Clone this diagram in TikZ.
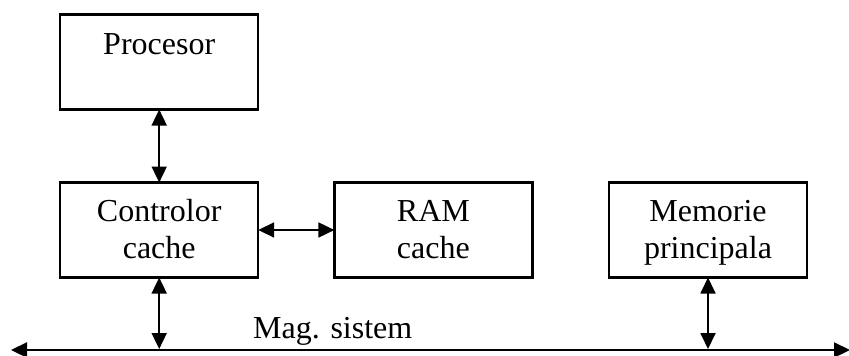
\documentclass[tikz,border=0pt]{standalone}
\usepackage{fontspec}
\setmainfont{Liberation Serif}
\usetikzlibrary{arrows.meta}

\tikzset{
  unit/.style={draw=black, line width=2.2pt, rectangle, minimum width=198pt,
               minimum height=95pt, inner sep=0pt, outer sep=0pt},
  caption/.style={anchor=base, inner sep=0pt,
                  font=\fontsize{32}{36}\selectfont},
  link/.style={line width=1.8pt, {Triangle[length=16pt,width=15pt]}-{Triangle[length=16pt,width=15pt]}},
  bus/.style={line width=2.2pt, {Triangle[length=16pt,width=15pt]}-{Triangle[length=16pt,width=15pt]}}
}

\begin{document}
\begin{tikzpicture}[x=1pt, y=-1pt]
  \useasboundingbox (0,0) rectangle (849,356);

  % blocks
  \node[unit] (cpu)  at (159.2,62)  {};
  \node[unit] (ctrl) at (159.2,230) {};
  \node[unit] (sram) at (433.4,230) {};
  \node[unit] (mem)  at (708,230)   {};

  % block captions
  \node[caption] (cpuT)  at (159.2,54.5) {Procesor};
  \node[caption] (ctrlT) at (159.2,221.5) {Controlor};
  \node[caption] (ctrlU) at (159.2,258) {cache};
  \node[caption] (sramT) at (433.4,221.5) {RAM};
  \node[caption] (sramU) at (433.4,258) {cache};
  \node[caption] (memT)  at (708,221.5) {Memorie};
  \node[caption] (memU)  at (708,258) {principala};

  % system bus
  \coordinate (busL) at (11,350);
  \coordinate (busR) at (850,350);
  \draw[bus] (busL) -- (busR);
  \node[caption, anchor=base west] (busT) at (253,338) {Mag. sistem};

  % bus taps
  \coordinate (tapC) at (159.2,349);
  \coordinate (tapM) at (708,349);

  % connections
  \draw[link] (cpu.south) -- (ctrl.north);
  \draw[link] (ctrl.east) -- (sram.west);
  \draw[link] (ctrl.south) -- (tapC);
  \draw[link] (mem.south) -- (tapM);
\end{tikzpicture}
\end{document}
